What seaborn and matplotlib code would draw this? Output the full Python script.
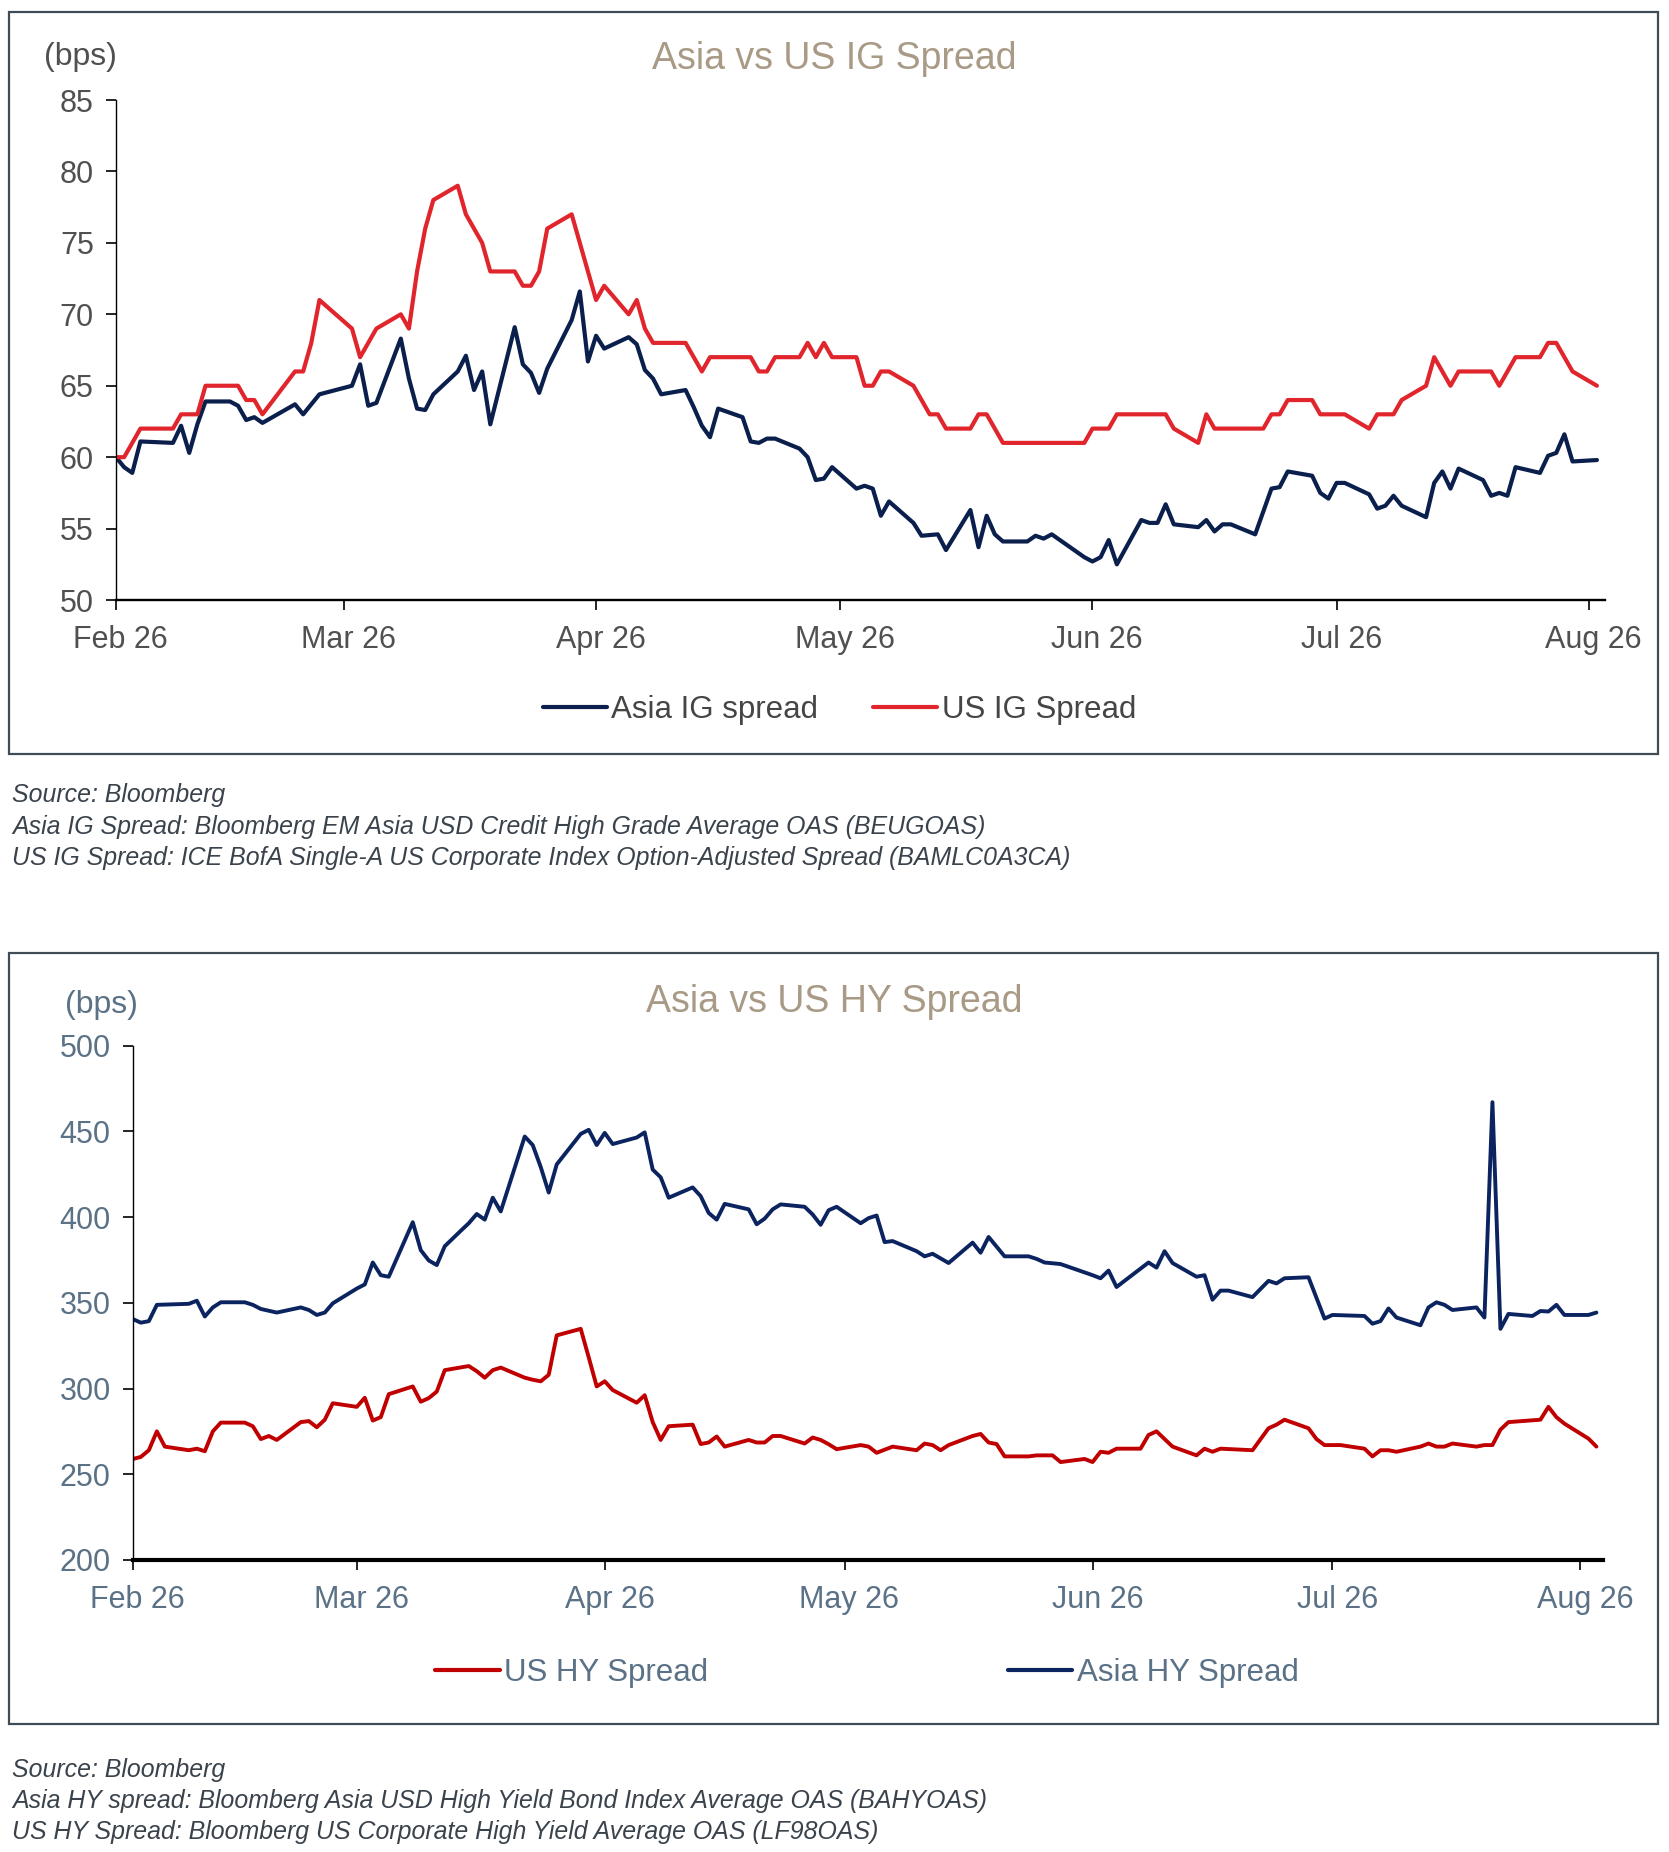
import pandas as pd
import matplotlib
matplotlib.use('Agg')
import matplotlib.pyplot as plt
import matplotlib.dates as mdates
import matplotlib.transforms as mtransforms
import seaborn as sns
from matplotlib.patches import Rectangle


START = pd.Timestamp('2026-02-01')

# --- IG chart data (day offset from 1 Feb 2026, spread in bps) ---
us_ig_days = [0, 1, 3, 7, 8, 10, 11, 15, 16, 17, 18, 22, 23, 24, 25, 29, 30, 32, 35, 36,
              37, 38, 39, 42, 43, 45, 46, 49, 50, 51, 52, 53, 56, 59, 60, 63, 64, 65, 66, 70,
              72, 73, 78, 79, 80, 81, 84, 85, 86, 87, 88, 91, 92, 93, 94, 95, 98, 100, 101, 102,
              105, 106, 107, 109, 119, 120, 122, 123, 129, 130, 133, 134, 135, 141, 142, 143, 144, 147, 148, 151,
              154, 155, 157, 158, 161, 162, 164, 165, 169, 170, 172, 175, 176, 177, 179, 182]
us_ig_vals = [60, 60, 62, 62, 63, 63, 65, 65, 64, 64, 63, 66, 66, 68, 71, 69, 67, 69, 70, 69,
              73, 76, 78, 79, 77, 75, 73, 73, 72, 72, 73, 76, 77, 71, 72, 70, 71, 69, 68, 68,
              66, 67, 67, 66, 66, 67, 67, 68, 67, 68, 67, 67, 65, 65, 66, 66, 65, 63, 63, 62,
              62, 63, 63, 61, 61, 62, 62, 63, 63, 62, 61, 63, 62, 62, 63, 63, 64, 64, 63, 63,
              62, 63, 63, 64, 65, 67, 65, 66, 66, 65, 67, 67, 68, 68, 66, 65]

asia_ig_days = [0, 1, 2, 3, 7, 8, 9, 10, 11, 14, 15, 16, 17, 18, 22, 23, 25, 29, 30, 31,
                32, 35, 36, 37, 38, 39, 42, 43, 44, 45, 46, 49, 50, 51, 52, 53, 56, 57, 58, 59,
                60, 63, 64, 65, 66, 67, 70, 71, 72, 73, 74, 77, 78, 79, 80, 81, 84, 85, 86, 87,
                88, 91, 92, 93, 94, 95, 98, 99, 101, 102, 105, 106, 107, 108, 109, 112, 113, 114, 115, 119,
                120, 121, 122, 123, 126, 127, 128, 129, 130, 133, 134, 135, 136, 137, 140, 142, 143, 144, 147, 148,
                149, 150, 151, 154, 155, 156, 157, 158, 161, 162, 163, 164, 165, 168, 169, 170, 171, 172, 175, 176,
                177, 178, 179, 182]
asia_ig_vals = [60.0, 59.3, 58.9, 61.1, 61.0, 62.2, 60.3, 62.3, 63.9, 63.9, 63.6, 62.6, 62.8, 62.4, 63.7, 63.0, 64.4, 65.0, 66.5, 63.6,
                63.8, 68.3, 65.5, 63.4, 63.3, 64.4, 66.0, 67.1, 64.7, 66.0, 62.3, 69.1, 66.5, 65.9, 64.5, 66.2, 69.6, 71.6, 66.7, 68.5,
                67.6, 68.4, 67.9, 66.1, 65.5, 64.4, 64.7, 63.5, 62.2, 61.4, 63.4, 62.8, 61.1, 61.0, 61.3, 61.3, 60.6, 60.0, 58.4, 58.5,
                59.3, 57.8, 58.0, 57.8, 55.9, 56.9, 55.4, 54.5, 54.6, 53.5, 56.3, 53.7, 55.9, 54.6, 54.1, 54.1, 54.5, 54.3, 54.6, 53.0,
                52.7, 53.0, 54.2, 52.5, 55.6, 55.4, 55.4, 56.7, 55.3, 55.1, 55.6, 54.8, 55.3, 55.3, 54.6, 57.8, 57.9, 59.0, 58.7, 57.5,
                57.1, 58.2, 58.2, 57.4, 56.4, 56.6, 57.3, 56.6, 55.8, 58.2, 59.0, 57.8, 59.2, 58.4, 57.3, 57.5, 57.3, 59.3, 58.9, 60.1,
                60.3, 61.6, 59.7, 59.8]

# --- HY chart data ---
asia_hy_days = [0, 1, 2, 3, 7, 8, 9, 10, 11, 14, 15, 16, 18, 21, 22, 23, 24, 25, 28, 29,
                30, 31, 32, 35, 36, 37, 38, 39, 41, 42, 43, 44, 45, 46, 49, 50, 51, 52, 53, 56,
                57, 58, 59, 60, 63, 64, 65, 66, 67, 70, 71, 72, 73, 74, 77, 78, 79, 80, 81, 84,
                85, 86, 87, 88, 91, 92, 93, 94, 95, 98, 99, 100, 102, 105, 106, 107, 109, 112, 113, 114,
                116, 120, 121, 122, 123, 124, 127, 128, 129, 130, 133, 134, 135, 136, 137, 140, 142, 143, 144, 147,
                149, 150, 154, 155, 156, 157, 158, 161, 162, 163, 164, 165, 168, 169, 170, 171, 172, 175, 176, 177,
                178, 179, 182, 183]
asia_hy_vals = [340.5, 338.4, 339.3, 348.8, 349.4, 351.2, 342.0, 347.3, 350.3, 350.3, 348.8, 346.4, 344.3, 347.3, 345.8, 342.9, 344.3, 349.7, 358.3, 360.7,
                373.5, 366.1, 365.2, 397.0, 380.7, 374.7, 372.0, 383.0, 392.0, 396.4, 401.8, 398.5, 411.3, 403.3, 447.0, 442.0, 429.2, 414.3, 430.7, 448.5,
                450.9, 442.0, 449.1, 442.6, 446.4, 449.4, 427.7, 423.2, 411.3, 417.3, 412.2, 402.4, 398.5, 407.7, 404.5, 395.8, 399.1, 404.5, 407.4, 406.0,
                401.5, 395.5, 404.0, 406.0, 396.4, 399.4, 400.9, 385.4, 386.0, 380.1, 377.1, 378.6, 373.2, 385.1, 379.2, 388.4, 377.1, 377.1, 375.6, 373.5,
                372.6, 366.1, 364.3, 368.8, 359.2, 362.8, 373.5, 370.5, 380.1, 373.2, 365.2, 366.1, 351.8, 357.1, 357.1, 353.3, 362.8, 361.3, 364.3, 364.9,
                340.8, 342.9, 342.3, 337.8, 339.3, 346.7, 341.4, 336.9, 347.3, 350.3, 348.8, 345.8, 347.3, 341.4, 467.0, 334.8, 343.5, 342.3, 345.2, 344.9,
                348.8, 342.9, 342.9, 344.3]

us_hy_days = [0, 1, 2, 3, 4, 7, 8, 9, 10, 11, 14, 15, 16, 17, 18, 21, 22, 23, 24, 25,
              28, 29, 30, 31, 32, 35, 36, 37, 38, 39, 42, 43, 44, 45, 46, 49, 50, 51, 52, 53,
              56, 57, 58, 59, 60, 63, 64, 65, 66, 67, 70, 71, 72, 73, 74, 77, 78, 79, 80, 81,
              84, 85, 86, 87, 88, 91, 92, 93, 95, 98, 99, 100, 101, 102, 105, 106, 107, 108, 109, 112,
              113, 115, 116, 119, 120, 121, 122, 123, 126, 127, 128, 130, 133, 134, 135, 136, 140, 142, 143, 144,
              147, 148, 149, 151, 154, 155, 156, 157, 158, 161, 162, 163, 164, 165, 168, 169, 170, 171, 172, 176,
              177, 178, 179, 182, 183]
us_hy_vals = [258.9, 260.1, 264.0, 275.0, 266.1, 264.0, 264.9, 263.4, 275.0, 280.1, 280.1, 278.0, 270.5, 272.3, 270.0, 280.4, 281.0, 277.4, 281.8, 291.4,
              289.3, 294.6, 281.3, 283.3, 296.7, 301.2, 292.3, 294.4, 298.2, 310.7, 313.1, 310.1, 306.3, 310.7, 312.2, 306.3, 305.1, 304.2, 308.0, 331.0,
              334.8, 318.2, 301.2, 304.2, 299.1, 291.7, 296.1, 280.4, 270.0, 278.0, 278.9, 267.6, 268.5, 272.0, 266.1, 270.0, 268.5, 268.5, 272.3, 272.3,
              267.9, 271.4, 270.0, 267.5, 264.6, 267.0, 266.1, 262.5, 266.1, 264.0, 267.9, 267.0, 264.0, 267.0, 272.3, 273.5, 268.5, 267.6, 260.4, 260.4,
              261.0, 261.0, 257.1, 258.9, 257.1, 263.1, 262.5, 264.9, 264.9, 272.9, 275.0, 266.1, 261.0, 264.9, 263.1, 264.9, 264.0, 276.8, 278.9, 281.8,
              276.8, 270.5, 267.0, 267.0, 264.9, 260.4, 264.0, 264.0, 263.1, 266.1, 267.9, 266.1, 266.1, 267.9, 266.1, 267.0, 267.0, 276.0, 280.4, 281.8,
              289.3, 283.3, 279.5, 270.8, 266.1]

ig_notes = ['Source: Bloomberg',
            'Asia IG Spread: Bloomberg EM Asia USD Credit High Grade Average OAS (BEUGOAS)',
            'US IG Spread: ICE BofA Single-A US Corporate Index Option-Adjusted Spread (BAMLC0A3CA)']
hy_notes = ['Source: Bloomberg',
            'Asia HY spread: Bloomberg Asia USD High Yield Bond Index Average OAS (BAHYOAS)',
            'US HY Spread: Bloomberg US Corporate High Yield Average OAS (LF98OAS)']


def to_frame(days, vals, name):
    return pd.DataFrame({
        'date': START + pd.to_timedelta(days, unit='D'),
        'bps': vals,
        'series': name,
    })


def style_axis(fig, ax, text_color, bottom_width, ylim, yticks, xmax):
    ax.set_xlim(START, xmax)
    ax.set_ylim(*ylim)
    ax.set_yticks(yticks)
    ax.xaxis.set_major_locator(mdates.MonthLocator())
    ax.xaxis.set_major_formatter(mdates.DateFormatter('%b %y'))
    for side in ['top', 'right']:
        ax.spines[side].set_visible(False)
    ax.spines['left'].set_color('black')
    ax.spines['left'].set_linewidth(1.0)
    ax.spines['bottom'].set_color('black')
    ax.spines['bottom'].set_linewidth(bottom_width)
    ax.tick_params(axis='both', direction='out', length=7, width=1.2, color='black',
                   labelsize=22, labelcolor=text_color, bottom=True, left=True)
    ax.tick_params(axis='x', pad=11)
    ax.tick_params(axis='y', pad=9)
    ax.set_xlabel('')
    ax.set_ylabel('')
    ax.grid(False)

    # month labels sit a little right of their ticks in the original
    shift = mtransforms.ScaledTranslation(3.5 / 72, 0, fig.dpi_scale_trans)
    for label in ax.get_xticklabels():
        label.set_transform(label.get_transform() + shift)


def main():
    sns.set_theme(style='white')
    plt.rcParams['font.family'] = ['Liberation Sans', 'DejaVu Sans']

    fig = plt.figure(figsize=(16.69, 18.52), dpi=100)

    # panel frames
    for y0, h in [(0.5929, 0.4006), (0.0691, 0.4163)]:
        fig.patches.append(Rectangle((0.0054, y0), 0.988, h, transform=fig.transFigure,
                                     fill=False, edgecolor='#3f4b55', linewidth=1.6))

    title_color = '#a99a86'

    # ---------------- IG chart ----------------
    ig_colors = {'Asia IG spread': '#0b1f4d', 'US IG Spread': '#e0262c'}
    ig_df = pd.concat([
        to_frame(asia_ig_days, asia_ig_vals, 'Asia IG spread'),
        to_frame(us_ig_days, us_ig_vals, 'US IG Spread'),
    ])
    ax1 = fig.add_axes([0.0695, 0.676, 0.8922, 0.2700])
    sns.lineplot(data=ig_df, x='date', y='bps', hue='series', palette=ig_colors,
                 linewidth=3.0, ax=ax1, legend=False)
    style_axis(fig, ax1, '#505050', 1.7, (50, 85), range(50, 86, 5), pd.Timestamp('2026-08-03'))

    handles = [plt.Line2D([], [], color=c, linewidth=3.0) for c in ig_colors.values()]
    fig.legend(handles, list(ig_colors.keys()), loc='center', bbox_to_anchor=(0.503, 0.6166),
               ncol=2, frameon=False, fontsize=22.5, handlelength=2.05, handletextpad=0.15,
               columnspacing=1.75, labelcolor='#454545')

    fig.text(0.4997, 0.9679, 'Asia vs US IG Spread', ha='center', va='center',
             fontsize=27, color=title_color)
    fig.text(0.048, 0.9692, '(bps)', ha='center', va='center', fontsize=23, color='#505050')

    for i, line in enumerate(ig_notes):
        fig.text(0.0072, 0.5707 - i * 0.0170, line, ha='left', va='center',
                 fontsize=17.9, style='italic', color='#3a434c')

    # ---------------- HY chart ----------------
    hy_colors = {'US HY Spread': '#c00000', 'Asia HY Spread': '#0b2460'}
    hy_df = pd.concat([
        to_frame(asia_hy_days, asia_hy_vals, 'Asia HY Spread'),
        to_frame(us_hy_days, us_hy_vals, 'US HY Spread'),
    ])
    ax2 = fig.add_axes([0.0796, 0.1577, 0.8809, 0.2777])
    sns.lineplot(data=hy_df, x='date', y='bps', hue='series', palette=hy_colors,
                 linewidth=2.8, ax=ax2, legend=False)
    style_axis(fig, ax2, '#5a7186', 3.0, (200, 500), range(200, 501, 50),
               pd.Timestamp('2026-08-03 20:00'))

    handles = [plt.Line2D([], [], color=c, linewidth=3.0) for c in hy_colors.values()]
    fig.legend(handles, list(hy_colors.keys()), loc='center', bbox_to_anchor=(0.5196, 0.0967),
               ncol=2, frameon=False, fontsize=22.5, handlelength=2.05, handletextpad=0.15,
               columnspacing=9.6, labelcolor='#5a7186')

    fig.text(0.4997, 0.4592, 'Asia vs US HY Spread', ha='center', va='center',
             fontsize=27, color=title_color)
    fig.text(0.061, 0.4573, '(bps)', ha='center', va='center', fontsize=23, color='#5a7186')

    for i, line in enumerate(hy_notes):
        fig.text(0.0072, 0.0443 - i * 0.0168, line, ha='left', va='center',
                 fontsize=17.9, style='italic', color='#3a434c')

    fig.savefig('out.png', dpi=100, facecolor='white')


if __name__ == '__main__':
    main()
